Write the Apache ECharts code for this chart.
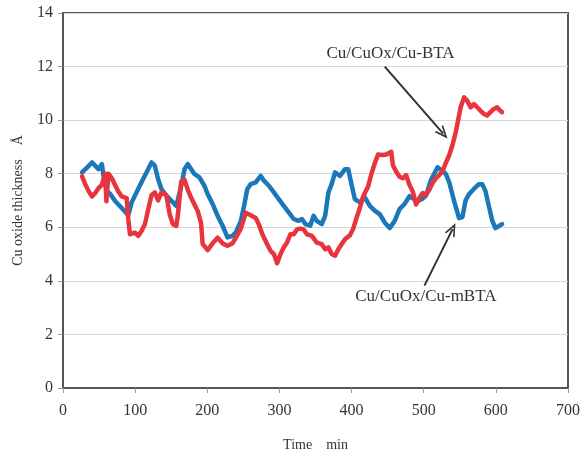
<!DOCTYPE html>
<html>
<head>
<meta charset="utf-8">
<script src="https://cdn.jsdelivr.net/npm/echarts@6/dist/echarts.min.js"></script>
<style>
  html, body { margin: 0; padding: 0; background: #ffffff; }
  #chart { width: 583px; height: 457px; }
</style>
</head>
<body>
<div id="chart"></div>
<script>
// Oxide thickness over time for the two film stacks (minutes, Å)
const mbtaTime = [26.4, 33.3, 40.2, 44.7, 49.2, 53.9, 56.1, 60.8, 65.3, 72.2, 81.4, 90.5, 95.2, 104.2, 111.1, 118.0, 122.7, 127.2, 131.8, 136.4, 143.3, 152.4, 157.1, 163.9, 168.5, 173.0, 177.7, 182.2, 189.1, 196.0, 200.5, 207.4, 214.3, 221.2, 228.0, 234.9, 239.6, 246.5, 251.0, 255.5, 260.2, 267.1, 274.0, 278.5, 285.4, 292.3, 299.1, 306.0, 312.9, 319.8, 326.6, 331.2, 335.9, 342.7, 347.3, 351.8, 358.7, 363.4, 367.9, 372.4, 377.1, 384.0, 390.9, 395.4, 399.9, 404.6, 411.5, 418.4, 425.3, 432.1, 439.0, 445.9, 452.8, 459.6, 466.5, 473.4, 480.3, 487.1, 491.7, 497.2, 503.1, 510.0, 519.2, 526.1, 530.6, 535.3, 542.1, 549.0, 553.6, 558.1, 562.8, 569.6, 576.5, 581.1, 585.6, 590.3, 594.8, 599.3, 604.0, 608.6];
const mbtaValue = [8.05, 8.23, 8.42, 8.30, 8.17, 8.36, 7.92, 7.35, 7.25, 6.98, 6.72, 6.45, 6.93, 7.43, 7.80, 8.17, 8.42, 8.30, 7.80, 7.43, 7.18, 6.93, 6.80, 7.55, 8.17, 8.36, 8.17, 7.99, 7.86, 7.55, 7.24, 6.87, 6.43, 6.06, 5.62, 5.68, 5.81, 6.24, 6.80, 7.43, 7.61, 7.68, 7.92, 7.74, 7.55, 7.30, 7.05, 6.80, 6.56, 6.31, 6.24, 6.31, 6.12, 6.06, 6.43, 6.24, 6.12, 6.43, 7.30, 7.61, 8.05, 7.92, 8.17, 8.17, 7.61, 7.05, 6.93, 7.12, 6.80, 6.62, 6.49, 6.18, 5.97, 6.23, 6.68, 6.87, 7.16, 7.05, 6.98, 7.05, 7.18, 7.76, 8.24, 8.10, 7.99, 7.69, 6.98, 6.34, 6.38, 7.01, 7.24, 7.43, 7.61, 7.61, 7.35, 6.79, 6.27, 5.97, 6.04, 6.12];

const btaTime = [26.4, 30.9, 35.5, 40.2, 44.7, 49.2, 53.9, 58.5, 60.2, 63.0, 67.7, 72.2, 76.7, 81.4, 88.3, 90.5, 92.8, 99.7, 104.2, 108.9, 113.5, 118.0, 122.7, 127.2, 131.8, 136.4, 143.3, 147.9, 152.4, 157.1, 159.3, 163.9, 168.5, 173.0, 177.7, 182.2, 186.8, 191.4, 193.6, 200.5, 207.4, 214.3, 221.2, 228.0, 234.9, 239.6, 246.5, 253.3, 260.2, 267.1, 271.6, 276.2, 283.0, 287.7, 292.3, 296.8, 301.5, 306.0, 310.5, 315.2, 319.8, 324.3, 329.0, 333.5, 338.1, 344.9, 351.8, 358.7, 363.4, 367.9, 372.4, 377.1, 381.6, 386.2, 390.9, 397.7, 402.3, 406.8, 411.5, 416.0, 422.9, 427.5, 432.1, 436.7, 443.6, 448.1, 455.0, 457.3, 461.8, 466.5, 471.0, 475.6, 480.3, 484.8, 489.3, 494.0, 498.6, 503.1, 507.8, 512.3, 516.8, 521.5, 526.1, 530.6, 535.3, 539.8, 544.4, 551.2, 555.9, 560.4, 565.0, 569.6, 574.2, 578.8, 583.5, 588.0, 592.5, 597.2, 601.7, 606.2, 608.6];
const btaValue = [7.90, 7.60, 7.35, 7.15, 7.28, 7.46, 7.58, 8.00, 6.97, 8.00, 7.83, 7.58, 7.34, 7.15, 7.09, 6.30, 5.74, 5.80, 5.68, 5.86, 6.11, 6.65, 7.20, 7.30, 7.00, 7.30, 7.20, 6.48, 6.11, 6.05, 6.48, 7.71, 7.77, 7.40, 7.10, 6.85, 6.60, 6.15, 5.37, 5.15, 5.40, 5.61, 5.40, 5.31, 5.40, 5.61, 5.95, 6.54, 6.45, 6.35, 6.10, 5.75, 5.37, 5.12, 5.00, 4.66, 5.00, 5.25, 5.43, 5.74, 5.74, 5.92, 5.95, 5.92, 5.74, 5.68, 5.43, 5.37, 5.18, 5.25, 5.00, 4.94, 5.18, 5.37, 5.55, 5.70, 5.95, 6.35, 6.72, 7.15, 7.52, 8.00, 8.38, 8.72, 8.70, 8.72, 8.82, 8.32, 8.08, 7.89, 7.83, 7.95, 7.58, 7.34, 6.85, 7.09, 7.28, 7.21, 7.40, 7.65, 7.83, 7.95, 8.10, 8.40, 8.69, 9.06, 9.55, 10.48, 10.85, 10.72, 10.48, 10.60, 10.48, 10.35, 10.23, 10.17, 10.30, 10.42, 10.48, 10.35, 10.30];

// Series names, callout text anchors and arrow ends, all in data units
const seriesNames = ['Cu/CuOx/Cu-mBTA', 'Cu/CuOx/Cu-BTA'];
const btaLabelAt = [454, 12.5];
const btaArrow = [[446, 12.0], [527, 9.5]];
const mbtaLabelAt = [503, 3.43];
const mbtaArrow = [[501, 3.82], [540, 5.93]];

const xTicks = { min: 0, max: 700, step: 100 };
const yTicks = { min: 0, max: 14, step: 2 };

const zip = (t, v) => t.map((x, i) => [x, v[i]]);

const serif = '"Liberation Serif", "DejaVu Serif", serif';
const textColor = '#333333';
// open V arrowhead, tip pointing up before rotation
const chevron = 'path://M0,10 L5,0 L10,10 L8.4,10 L5,3.2 L1.6,10 Z';

const chart = echarts.init(document.getElementById('chart'), null, { renderer: 'canvas' });

function callout(text, at) {
  return {
    coord: at,
    symbol: 'circle',
    symbolSize: 0,
    label: {
      show: true,
      position: 'inside',
      formatter: text,
      fontFamily: serif,
      fontSize: 17,
      color: textColor
    }
  };
}

function arrow(ends) {
  return [{ coord: ends[0] }, { coord: ends[1] }];
}

chart.setOption({
  animation: false,
  backgroundColor: '#ffffff',
  grid: {
    left: 63, right: 10, top: 13, bottom: 66,
    show: true,
    borderColor: '#555555',
    borderWidth: 2,
    backgroundColor: 'transparent'
  },
  xAxis: {
    type: 'value',
    min: xTicks.min, max: xTicks.max, interval: xTicks.step,
    name: 'Time\u3000min',
    nameLocation: 'middle',
    nameGap: 50,
    nameTextStyle: { fontFamily: serif, fontSize: 14, color: textColor },
    axisLine: { show: true, lineStyle: { color: '#555555', width: 2 } },
    axisTick: { show: true, inside: false, length: 5, lineStyle: { color: '#999999' } },
    axisLabel: { fontFamily: serif, fontSize: 16, color: textColor, margin: 15 },
    splitLine: { show: false }
  },
  yAxis: {
    type: 'value',
    min: yTicks.min, max: yTicks.max, interval: yTicks.step,
    name: 'Cu oxide thickness\u3000Å',
    nameLocation: 'middle',
    nameGap: 38,
    nameRotate: 90,
    nameTextStyle: { fontFamily: serif, fontSize: 14, color: textColor },
    axisLine: { show: true, lineStyle: { color: '#555555', width: 2 } },
    axisTick: { show: true, inside: false, length: 5, lineStyle: { color: '#999999' } },
    axisLabel: { fontFamily: serif, fontSize: 16, color: textColor, margin: 10 },
    splitLine: { show: true, lineStyle: { color: '#d6d6d6', width: 1 } }
  },
  series: [
    {
      name: seriesNames[0],
      type: 'line',
      data: zip(mbtaTime, mbtaValue),
      showSymbol: false,
      symbol: 'none',
      lineStyle: { color: '#1a78ba', width: 4.5, join: 'round', cap: 'round' },
      itemStyle: { color: '#1a78ba' },
      z: 2
    },
    {
      name: seriesNames[1],
      type: 'line',
      data: zip(btaTime, btaValue),
      showSymbol: false,
      symbol: 'none',
      lineStyle: { color: '#e8343c', width: 4.5, join: 'round', cap: 'round' },
      itemStyle: { color: '#e8343c' },
      z: 3,
      markLine: {
        silent: true,
        symbol: ['none', chevron],
        symbolSize: [11, 13],
        lineStyle: { color: '#333333', width: 2, type: 'solid' },
        label: { show: false },
        emphasis: { disabled: true },
        data: [arrow(btaArrow), arrow(mbtaArrow)]
      },
      markPoint: {
        silent: true,
        data: [
          callout(seriesNames[1], btaLabelAt),
          callout(seriesNames[0], mbtaLabelAt)
        ]
      }
    }
  ]
});
</script>
</body>
</html>
